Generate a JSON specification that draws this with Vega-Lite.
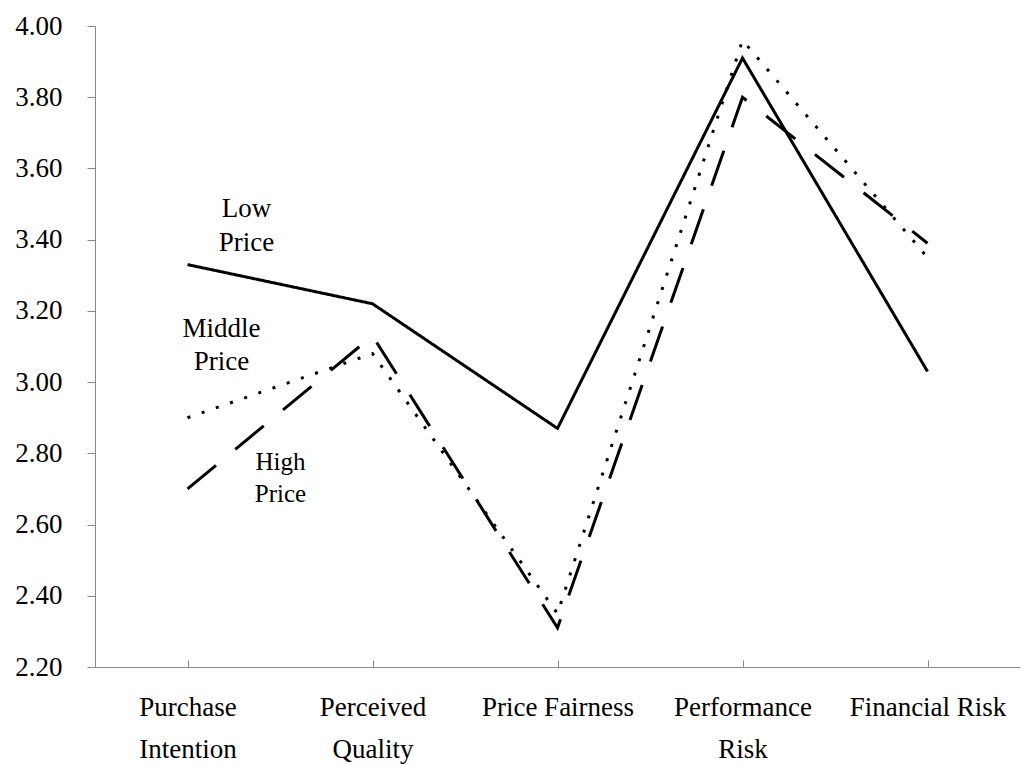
{
  "$schema": "https://vega.github.io/schema/vega-lite/v6.json",
  "width": 925,
  "height": 641,
  "autosize": "none",
  "padding": {"left": 95, "top": 26, "right": 3, "bottom": 98},
  "background": "white",
  "config": {"view": {"stroke": null}, "font": "Liberation Serif"},
  "datasets": {
    "scores": [
      {"measure": "Purchase Intention", "price": "Low Price", "score": 3.33},
      {"measure": "Perceived Quality", "price": "Low Price", "score": 3.22},
      {"measure": "Price Fairness", "price": "Low Price", "score": 2.87},
      {"measure": "Performance Risk", "price": "Low Price", "score": 3.91},
      {"measure": "Financial Risk", "price": "Low Price", "score": 3.03},
      {"measure": "Purchase Intention", "price": "Middle Price", "score": 2.90},
      {"measure": "Perceived Quality", "price": "Middle Price", "score": 3.08},
      {"measure": "Price Fairness", "price": "Middle Price", "score": 2.35},
      {"measure": "Performance Risk", "price": "Middle Price", "score": 3.96},
      {"measure": "Financial Risk", "price": "Middle Price", "score": 3.35},
      {"measure": "Purchase Intention", "price": "High Price", "score": 2.70},
      {"measure": "Perceived Quality", "price": "High Price", "score": 3.13},
      {"measure": "Price Fairness", "price": "High Price", "score": 2.31},
      {"measure": "Performance Risk", "price": "High Price", "score": 3.80},
      {"measure": "Financial Risk", "price": "High Price", "score": 3.39}
    ],
    "labels": [
      {"measure": "Purchase Intention", "price": "Low Price", "score": 3.464},
      {"measure": "Purchase Intention", "price": "Middle Price", "score": 3.127},
      {"measure": "Purchase Intention", "price": "High Price", "score": 2.753}
    ]
  },
  "layer": [
    {
      "data": {"name": "scores"},
      "mark": {"type": "line", "strokeWidth": 3, "strokeCap": "butt", "strokeJoin": "miter", "color": "black"},
      "encoding": {
        "x": {
          "field": "measure", "type": "nominal",
          "scale": {"type": "point", "padding": 0.5, "domain": ["Purchase Intention", "Perceived Quality", "Price Fairness", "Performance Risk", "Financial Risk"]},
          "axis": {
            "title": null, "labelAngle": 0, "domainColor": "#888888", "tickColor": "#888888",
            "tickSize": -7, "labelFont": "Liberation Serif", "labelFontSize": 27, "labelColor": "black", "labelBaseline": "top",
            "labelLineHeight": 42, "labelPadding": 34,
            "labelExpr": "datum.value == 'Purchase Intention' ? ['Purchase','Intention'] : datum.value == 'Perceived Quality' ? ['Perceived','Quality'] : datum.value == 'Performance Risk' ? ['Performance','Risk'] : datum.value"
          }
        },
        "y": {
          "field": "score", "type": "quantitative",
          "scale": {"domain": [2.2, 4.0], "nice": false, "zero": false},
          "axis": {
            "title": null, "values": [2.2, 2.4, 2.6, 2.8, 3.0, 3.2, 3.4, 3.6, 3.8, 4.0],
            "format": ".2f", "grid": false, "domainColor": "#888888", "tickColor": "#888888",
            "tickSize": 8, "labelFont": "Liberation Serif", "labelFontSize": 27, "labelColor": "black", "labelPadding": 25
          }
        },
        "detail": {"field": "price"},
        "strokeDash": {
          "field": "price", "type": "nominal",
          "scale": {"domain": ["Low Price", "Middle Price", "High Price"], "range": [[1, 0], [3, 12], [37, 25]]},
          "legend": null
        }
      }
    },
    {
      "data": {"name": "labels"},
      "transform": [{"filter": "datum.price == 'Low Price'"}],
      "mark": {"type": "text", "dx": 59, "font": "Liberation Serif", "fontSize": 27, "lineHeight": 34, "baseline": "alphabetic", "color": "black", "lineBreak": " "},
      "encoding": {
        "x": {"field": "measure", "type": "nominal"},
        "y": {"field": "score", "type": "quantitative"},
        "text": {"field": "price"}
      }
    },
    {
      "data": {"name": "labels"},
      "transform": [{"filter": "datum.price == 'Middle Price'"}],
      "mark": {"type": "text", "dx": 34, "font": "Liberation Serif", "fontSize": 27, "lineHeight": 33, "baseline": "alphabetic", "color": "black", "lineBreak": " "},
      "encoding": {
        "x": {"field": "measure", "type": "nominal"},
        "y": {"field": "score", "type": "quantitative"},
        "text": {"field": "price"}
      }
    },
    {
      "data": {"name": "labels"},
      "transform": [{"filter": "datum.price == 'High Price'"}],
      "mark": {"type": "text", "dx": 93, "font": "Liberation Serif", "fontSize": 25, "lineHeight": 32, "baseline": "alphabetic", "color": "black", "lineBreak": " "},
      "encoding": {
        "x": {"field": "measure", "type": "nominal"},
        "y": {"field": "score", "type": "quantitative"},
        "text": {"field": "price"}
      }
    }
  ]
}
